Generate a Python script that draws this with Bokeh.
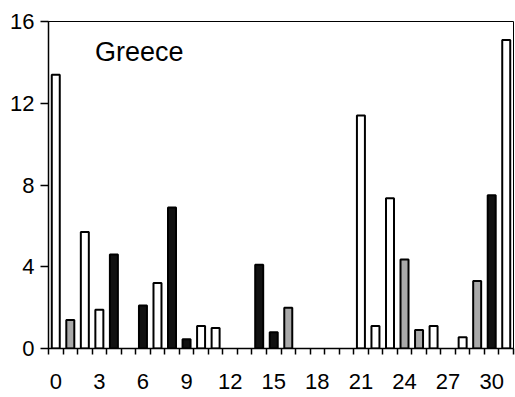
from bokeh.plotting import figure
from bokeh.models import ColumnDataSource, FixedTicker, Range1d, Label
from bokeh.embed import file_html
from bokeh.resources import INLINE

# Data (missing positions have no bar)
positions = [0, 1, 2, 3, 4, 6, 7, 8, 9, 10, 11, 14, 15, 16,
             21, 22, 23, 24, 25, 26, 28, 29, 30, 31]
values = [13.4, 1.4, 5.7, 1.9, 4.6, 2.1, 3.2, 6.9, 0.45, 1.1, 1.0, 4.1, 0.8, 2.0,
          11.4, 1.1, 7.35, 4.35, 0.9, 1.1, 0.55, 3.3, 7.5, 15.1]
shades = ["white", "grey", "white", "white", "black", "black", "white", "black",
          "black", "white", "white", "black", "black", "grey",
          "white", "white", "white", "grey", "grey", "white", "white", "grey",
          "black", "white"]
x_tick_labels = [0, 3, 6, 9, 12, 15, 18, 21, 24, 27, 30]
y_tick_labels = [0, 4, 8, 12, 16]
title_text = "Greece"

shade_colors = {"white": "#ffffff", "grey": "#a9a9a9", "black": "#111111"}

src = ColumnDataSource(dict(
    x=positions,
    top=values,
    color=[shade_colors[s] for s in shades],
))

p = figure(width=515, height=397, output_backend="svg", toolbar_location=None,
           x_range=Range1d(-0.5, 31.5), y_range=Range1d(0, 16),
           min_border_left=48, min_border_right=2, min_border_top=21,
           min_border_bottom=49)

p.vbar(x="x", top="top", bottom=0, width=0.55, source=src,
       fill_color="color", line_color="black", line_width=2)

p.xgrid.visible = False
p.ygrid.visible = False
p.outline_line_color = "black"
p.outline_line_width = 1
p.background_fill_color = "white"
p.border_fill_color = "white"

font = "Liberation Sans"

xt = FixedTicker(ticks=x_tick_labels,
                 minor_ticks=[i - 0.5 for i in range(0, 33)])
p.xaxis.ticker = xt
p.xaxis.major_tick_line_color = None
p.xaxis.minor_tick_line_color = "black"
p.xaxis.minor_tick_out = 6
p.xaxis.minor_tick_in = 0
p.xaxis.minor_tick_line_width = 1.5
p.xaxis.major_label_text_font = font
p.xaxis.major_label_text_font_size = "22px"
p.xaxis.major_label_text_color = "black"
p.xaxis.major_label_standoff = 19
p.xaxis.axis_line_width = 1.5
p.xaxis.axis_line_color = "black"

p.yaxis.ticker = FixedTicker(ticks=y_tick_labels, minor_ticks=[])
p.yaxis.major_tick_out = 8
p.yaxis.major_tick_in = 0
p.yaxis.major_tick_line_color = "black"
p.yaxis.major_tick_line_width = 1.5
p.yaxis.minor_tick_line_color = None
p.yaxis.major_label_text_font = font
p.yaxis.major_label_text_font_size = "22px"
p.yaxis.major_label_text_color = "black"
p.yaxis.major_label_standoff = 6
p.yaxis.axis_line_width = 1.5
p.yaxis.axis_line_color = "black"

p.add_layout(Label(x=2.7, y=14.5, text=title_text, text_font=font,
                   text_font_size="27px", text_color="black",
                   text_baseline="alphabetic", text_align="left"))

open("out.html", "w").write(file_html(p, INLINE))
